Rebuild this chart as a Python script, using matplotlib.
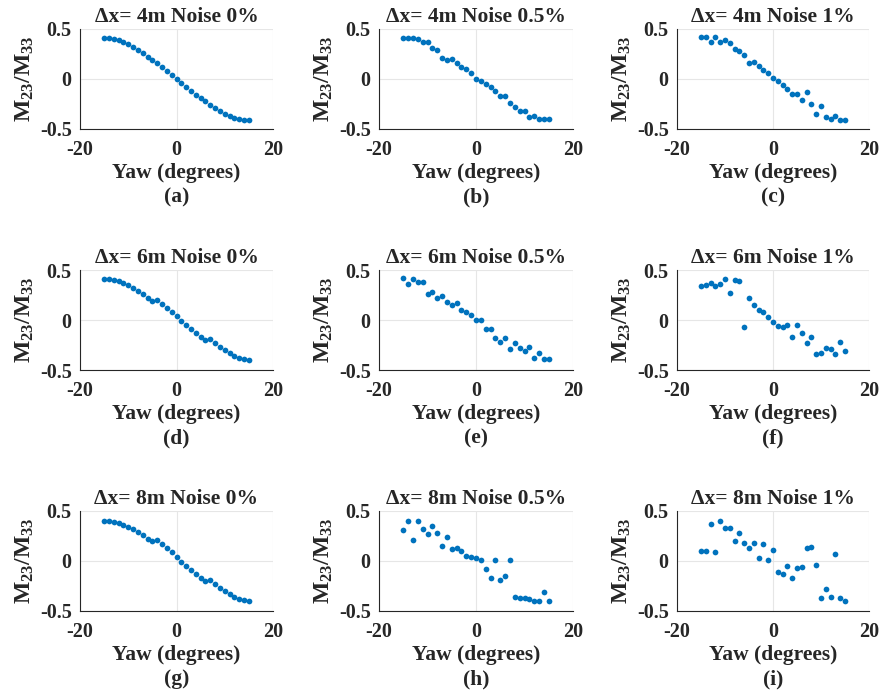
import matplotlib
matplotlib.use("Agg")
import matplotlib.pyplot as plt
import numpy as np

# Yaw angles (degrees) shared by every panel
yaw = list(range(-15, 16))

# M23/M33 ratio for each baseline / noise level
m_4m_0 = [0.41, 0.41, 0.40, 0.39, 0.37, 0.35, 0.32, 0.29, 0.26, 0.22, 0.19, 0.16, 0.12, 0.08, 0.04, 0.00,
          -0.04, -0.08, -0.12, -0.16, -0.19, -0.22, -0.26, -0.29, -0.32, -0.35, -0.37, -0.39, -0.40, -0.41, -0.41]
m_4m_05 = [0.41, 0.41, 0.41, 0.40, 0.37, 0.37, 0.31, 0.29, 0.21, 0.19, 0.20, 0.16, 0.12, 0.10, 0.06, 0.00,
           -0.02, -0.05, -0.08, -0.12, -0.17, -0.17, -0.24, -0.28, -0.32, -0.32, -0.38, -0.37, -0.40, -0.40, -0.40]
m_4m_1 = [0.42, 0.42, 0.37, 0.42, 0.37, 0.39, 0.36, 0.30, 0.28, 0.24, 0.16, 0.17, 0.13, 0.09, 0.06, 0.01,
          -0.02, -0.06, -0.10, -0.15, -0.15, -0.21, -0.13, -0.25, -0.35, -0.27, -0.38, -0.40, -0.37, -0.41, -0.41]
m_6m_0 = [0.41, 0.41, 0.40, 0.39, 0.37, 0.35, 0.32, 0.29, 0.26, 0.22, 0.19, 0.20, 0.16, 0.12, 0.08, 0.04,
          -0.01, -0.05, -0.09, -0.13, -0.17, -0.20, -0.19, -0.23, -0.27, -0.30, -0.33, -0.36, -0.38, -0.39, -0.40]
m_6m_05 = [0.42, 0.36, 0.41, 0.38, 0.38, 0.26, 0.28, 0.22, 0.24, 0.18, 0.15, 0.17, 0.10, 0.08, 0.05, 0.00,
           0.00, -0.09, -0.09, -0.18, -0.22, -0.18, -0.29, -0.23, -0.28, -0.31, -0.27, -0.38, -0.33, -0.39, -0.39]
m_6m_1 = [0.34, 0.35, 0.37, 0.34, 0.36, 0.41, 0.27, 0.40, 0.39, -0.07, 0.22, 0.15, 0.10, 0.08, 0.03, -0.02,
          -0.06, -0.07, -0.05, -0.17, -0.05, -0.13, -0.23, -0.17, -0.34, -0.33, -0.28, -0.29, -0.34, -0.22, -0.31]
m_8m_0 = [0.40, 0.40, 0.39, 0.38, 0.36, 0.34, 0.32, 0.29, 0.26, 0.22, 0.20, 0.21, 0.17, 0.13, 0.09, 0.04,
          -0.01, -0.05, -0.09, -0.13, -0.17, -0.20, -0.19, -0.23, -0.27, -0.30, -0.33, -0.36, -0.38, -0.39, -0.40]
m_8m_05 = [0.31, 0.40, 0.21, 0.40, 0.32, 0.27, 0.35, 0.28, 0.15, 0.24, 0.12, 0.13, 0.10, 0.05, 0.04, 0.03,
           0.01, -0.08, -0.17, 0.01, -0.19, -0.15, 0.01, -0.36, -0.37, -0.37, -0.38, -0.40, -0.40, -0.31, -0.40]
m_8m_1 = [0.10, 0.10, 0.37, 0.09, 0.40, 0.33, 0.33, 0.20, 0.28, 0.18, 0.13, 0.18, 0.03, 0.17, 0.01, 0.11,
          -0.11, -0.13, -0.05, -0.17, -0.07, -0.06, 0.13, 0.14, -0.04, -0.37, -0.28, -0.36, 0.07, -0.37, -0.40]

titles = [["\u0394x= 4m Noise 0%", "\u0394x= 4m Noise 0.5%", "\u0394x= 4m Noise 1%"],
          ["\u0394x= 6m Noise 0%", "\u0394x= 6m Noise 0.5%", "\u0394x= 6m Noise 1%"],
          ["\u0394x= 8m Noise 0%", "\u0394x= 8m Noise 0.5%", "\u0394x= 8m Noise 1%"]]
series = [[m_4m_0, m_4m_05, m_4m_1],
          [m_6m_0, m_6m_05, m_6m_1],
          [m_8m_0, m_8m_05, m_8m_1]]
captions = [["(a)", "(b)", "(c)"], ["(d)", "(e)", "(f)"], ["(g)", "(h)", "(i)"]]

x_ticks = [-20, 0, 20]
x_tick_labels = ["-20", "0", "20"]
y_ticks = [-0.5, 0, 0.5]
y_tick_labels = ["-0.5", "0", "0.5"]

plt.rcParams["font.family"] = ["Liberation Serif", "DejaVu Serif"]
plt.rcParams["font.weight"] = "bold"
plt.rcParams["axes.unicode_minus"] = False
plt.rcParams["mathtext.fontset"] = "custom"
plt.rcParams["mathtext.rm"] = "Liberation Serif:bold"
plt.rcParams["mathtext.it"] = "Liberation Serif:bold"
plt.rcParams["mathtext.bf"] = "Liberation Serif:bold"

W, H = 881, 695
fig = plt.figure(figsize=(W / 100, H / 100), dpi=100)

col_left = [80, 379, 677]
col_right = [273, 573, 869]
row_top = [29, 270, 511]
ax_h = 100

blue = "#0072BD"
ink = "#262626"

for r in range(3):
    for c in range(3):
        l = col_left[c]
        w = col_right[c] - l
        t = row_top[r]
        ax = fig.add_axes([l / W, 1 - (t + ax_h) / H, w / W, ax_h / H])
        ax.scatter(yaw, series[r][c], s=17, color=blue, linewidths=0, zorder=3)
        ax.set_xlim(-20, 20)
        ax.set_ylim(-0.5, 0.5)
        ax.set_xticks(x_ticks)
        ax.set_xticklabels(x_tick_labels)
        ax.set_yticks(y_ticks)
        ax.set_yticklabels(y_tick_labels)
        ax.grid(True, color="#e6e6e6", linewidth=0.8)
        ax.set_axisbelow(True)
        for side in ("top", "right"):
            ax.spines[side].set_visible(False)
        for side in ("left", "bottom"):
            ax.spines[side].set_color(ink)
            ax.spines[side].set_linewidth(0.8)
        ax.tick_params(axis="both", length=0, labelsize=14.5, colors=ink)
        ax.tick_params(axis="y", pad=6)
        ax.tick_params(axis="x", pad=8)
        for lab in ax.get_xticklabels() + ax.get_yticklabels():
            lab.set_fontweight("bold")
        ax.set_title(titles[r][c], fontsize=15.5, fontweight="bold", pad=5, color=ink)
        ax.set_xlabel("Yaw (degrees)", fontsize=15.5, fontweight="bold", labelpad=2, color=ink)
        ax.set_ylabel("M$_{23}$/M$_{33}$", fontsize=17, fontweight="bold", labelpad=3, color=ink)
        cx = (l + col_right[c]) / 2
        cy = t + ax_h + 68
        fig.text(cx / W, 1 - cy / H, captions[r][c], ha="center", va="center",
                 fontsize=15.5, fontweight="bold", color=ink)

fig.savefig("out.png", dpi=100, facecolor="white")
